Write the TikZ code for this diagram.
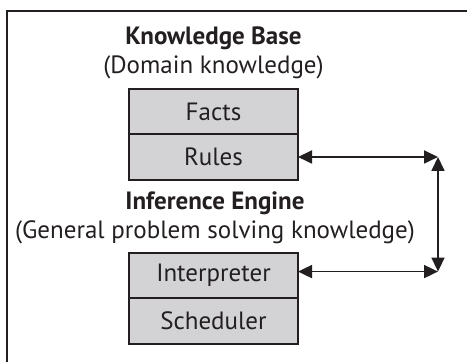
\documentclass[tikz,border=0pt]{standalone}
\usepackage{fontspec}
\setmainfont{PT Sans}
\usepackage{tikz}
\usetikzlibrary{
  arrows.meta,
  calc,
  positioning
}
\definecolor{inkdark}{RGB}{35,31,32}
\definecolor{blockgray}{RGB}{211,211,213}

\begin{document}
\begin{tikzpicture}[
  font=\fontsize{12.5}{14.5}\selectfont, color=inkdark,
  block/.style={draw=inkdark, fill=blockgray, line width=1pt, outer sep=0pt,
                minimum height=22.75pt, minimum width=84.5pt, align=center},
  title/.style={align=center, inner sep=0pt},
  frame/.style={line width=1pt},
  arr/.style={{Triangle[length=7pt,width=6.5pt]}-{Triangle[length=7pt,width=6.5pt]}, line width=0.9pt},
  node distance=0pt
]
\useasboundingbox (0,0) rectangle (233.5pt,181pt);

% outer frame (runs off the page to the right and bottom)
\draw[frame] (3.5pt,0) |- (233.5pt,175.5pt);

\node[block] at (106.75pt,125.25pt) (facts) {Facts};
\node[block, below=of facts] (rules) {Rules};
\node[title, above=4.5pt of facts] (kbtitle) {\textbf{Knowledge Base}\\(Domain knowledge)};

\node[title, below=6pt of rules, xshift=0.75pt] (ietitle) {\textbf{Inference Engine}\\(General problem solving knowledge)};
\node[block, below=4pt of ietitle.south -| rules] (interp) {Interpreter};
\node[block, below=of interp] (sched) {Scheduler};

\coordinate[right=70pt of rules.east] (cr);
\coordinate (ci) at ($(cr |- interp.east)+(0,2pt)$);

\draw[arr] (rules.east) -- (cr);
\draw[arr] (cr) -- (ci);
\draw[arr] (interp.east |- ci) -- (ci);

\end{tikzpicture}
\end{document}
